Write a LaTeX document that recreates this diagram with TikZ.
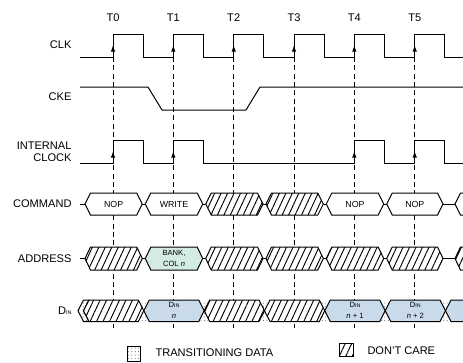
\documentclass[tikz,border=0pt]{standalone}
\usepackage{fontspec}
\setmainfont{Liberation Sans}
\usetikzlibrary{arrows.meta,patterns.meta}
\definecolor{bankgreen}{HTML}{D4EAE4}
\definecolor{dinblue}{HTML}{C9DAEA}
\tikzset{every picture/.style={line width=0.75pt}}
\tikzset{
  lbl/.style={font=\fontsize{8.3}{9.3}\selectfont, inner sep=0pt},
  boxtxt/.style={font=\fontsize{6.6}{7}\selectfont, inner sep=0pt},
  smalltxt/.style={font=\fontsize{5.7}{8}\selectfont, inner sep=0pt, align=center},
  tline/.style={dash pattern=on 3.75pt off 2.5pt},
  edgetip/.style={-{Latex[length=5pt,width=3.4pt]}},
  dontcare/.style={draw, preaction={fill=white}, pattern={Lines[angle=65,distance=4.4pt,line width=0.7pt]}, pattern color=black},
  transdata/.style={pattern={Dots[radius=0.35pt,distance=2.6pt]}, pattern color=black!70},
  bus/.style={draw, fill=white}
}
\newcommand{\dinsub}{{\fontsize{4}{5}\selectfont IN}}

\begin{document}
\begin{tikzpicture}[x=0.75pt,y=0.75pt,yscale=-1,xscale=1]
	\useasboundingbox (0,0) rectangle (463,362);
	
	%Straight Lines: clock edge markers
	\foreach \t in {113,173.3,233.7,294,354.3,414.7}{
		\draw [tline] (\t,57) -- (\t,328);
	}
	
	%Shape: CLK waveform
	\draw (80,57) \foreach \t in {113,173.3,233.7,294,354.3,414.7} { -- (\t,57) -- (\t,34) -- (\t+30.2,34) -- (\t+30.2,57) } -- (463,57);
	\foreach \t in {113,173.3,233.7,294,354.3,414.7}{
		\draw [edgetip] (\t,57) -- (\t,45);
	}
	
	%Shape: CKE waveform
	\draw (80,87) -- (148,87) -- (162,110) -- (246,110) -- (260,87) -- (463,87);
	
	%Shape: INTERNAL CLOCK waveform
	\draw (80,163) -- (113,163) -- (113,140) -- (143.2,140) -- (143.2,163) -- (173.3,163) -- (173.3,140) -- (203.5,140) -- (203.5,163) -- (354.3,163) -- (354.3,140) -- (384.5,140) -- (384.5,163) -- (414.7,163) -- (414.7,140) -- (444.9,140) -- (444.9,163) -- (463,163);
	\foreach \t in {113,173.3,354.3,414.7}{
		\draw [edgetip] (\t,163) -- (\t,151);
	}
	
	%Shape: COMMAND bus
	\draw (80,204) -- (463,204);
	\draw [bus] (85,204) -- (90.5,193) -- (136.8,193) -- (142.3,204) -- (136.8,215) -- (90.5,215) -- cycle;
	\draw [bus] (145.3,204) -- (150.8,193) -- (197.2,193) -- (202.7,204) -- (197.2,215) -- (150.8,215) -- cycle;
	\draw [dontcare] (205.7,204) -- (211.2,193) -- (257.5,193) -- (263,204) -- (257.5,215) -- (211.2,215) -- cycle;
	\draw [dontcare] (266,204) -- (271.5,193) -- (317.8,193) -- (323.3,204) -- (317.8,215) -- (271.5,215) -- cycle;
	\draw [bus] (326.3,204) -- (331.8,193) -- (378.2,193) -- (383.7,204) -- (378.2,215) -- (331.8,215) -- cycle;
	\draw [bus] (386.7,204) -- (392.2,193) -- (437.5,193) -- (443,204) -- (437.5,215) -- (392.2,215) -- cycle;
	\draw [bus] (455,204) -- (460.5,193) -- (500,193) -- (500,215) -- (460.5,215) -- cycle;
	
	%Shape: ADDRESS bus
	\draw (80,258.5) -- (463,258.5);
	\draw [dontcare] (85,258.5) -- (90.5,247) -- (136.8,247) -- (142.3,258.5) -- (136.8,270) -- (90.5,270) -- cycle;
	\draw [draw, fill=bankgreen] (145.3,258.5) -- (150.8,247) -- (197.2,247) -- (202.7,258.5) -- (197.2,270) -- (150.8,270) -- cycle;
	\draw [dontcare] (205.7,258.5) -- (211.2,247) -- (257.5,247) -- (263,258.5) -- (257.5,270) -- (211.2,270) -- cycle;
	\draw [dontcare] (266,258.5) -- (271.5,247) -- (317.8,247) -- (323.3,258.5) -- (317.8,270) -- (271.5,270) -- cycle;
	\draw [dontcare] (326.3,258.5) -- (331.8,247) -- (378.2,247) -- (383.7,258.5) -- (378.2,270) -- (331.8,270) -- cycle;
	\draw [dontcare] (386.7,258.5) -- (392.2,247) -- (437.5,247) -- (443,258.5) -- (437.5,270) -- (392.2,270) -- cycle;
	\draw [dontcare] (455,258.5) -- (460.5,247) -- (500,247) -- (500,270) -- (460.5,270) -- cycle;
	
	%Shape: DIN bus
	\path [transdata] (83.5,300) -- (470,300) -- (470,321.5) -- (83.5,321.5) -- cycle;
	\draw [transdata] (78,310.7) -- (83.5,300) -- (89,300) -- (83.5,310.7) -- (89,321.5) -- (83.5,321.5) -- cycle;
	\draw [dontcare] (83.5,310.7) -- (89,300) -- (138.3,300) -- (143.8,310.7) -- (138.3,321.5) -- (89,321.5) -- cycle;
	\draw [draw, fill=dinblue] (143.8,310.7) -- (149.3,300) -- (198.7,300) -- (204.2,310.7) -- (198.7,321.5) -- (149.3,321.5) -- cycle;
	\draw [dontcare] (204.2,310.7) -- (209.7,300) -- (259,300) -- (264.5,310.7) -- (259,321.5) -- (209.7,321.5) -- cycle;
	\draw [dontcare] (264.5,310.7) -- (270,300) -- (319.3,300) -- (324.8,310.7) -- (319.3,321.5) -- (270,321.5) -- cycle;
	\draw [draw, fill=dinblue] (324.8,310.7) -- (330.3,300) -- (379.7,300) -- (385.2,310.7) -- (379.7,321.5) -- (330.3,321.5) -- cycle;
	\draw [draw, fill=dinblue] (385.2,310.7) -- (390.7,300) -- (440,300) -- (445.5,310.7) -- (440,321.5) -- (390.7,321.5) -- cycle;
	\draw [draw, fill=dinblue] (445.5,310.7) -- (451,300) -- (500,300) -- (500,321.5) -- (451,321.5) -- cycle;
	
	%Shape: legend boxes
	\draw [transdata, draw] (127,346.5) rectangle (140,361);
	\draw [dontcare] (339,343) rectangle (353,356);
	
	% Text Node
	\node [lbl] (t0) at (113,18) {T0};
	\node [lbl] (t1) at (173.3,18) {T1};
	\node [lbl] (t2) at (233.7,18) {T2};
	\node [lbl] (t3) at (294,18) {T3};
	\node [lbl] (t4) at (354.3,18) {T4};
	\node [lbl] (t5) at (414.7,18) {T5};
	% Text Node
	\node [lbl, anchor=east] (clk) at (72,45) {CLK};
	\node [lbl, anchor=east] (cke) at (72,97) {CKE};
	\node [lbl, anchor=east, align=right] (iclk) at (72,152) {INTERNAL\\CLOCK};
	\node [lbl, anchor=east] (cmd) at (72,204) {COMMAND};
	\node [lbl, anchor=east] (addr) at (72,258.5) {ADDRESS};
	\node [lbl, anchor=east] (din) at (72,310.7) {D\dinsub};
	% Text Node
	\node [boxtxt] (nop0) at (113.6,204) {NOP};
	\node [boxtxt] (write) at (174,204) {WRITE};
	\node [boxtxt] (nop4) at (355,204) {NOP};
	\node [boxtxt] (nop5) at (414.8,204) {NOP};
	% Text Node
	\node [smalltxt] (bank) at (174,258.5) {BANK,\\COL \textit{n}};
	\node [smalltxt] (dinn) at (174,310.7) {D\dinsub\\\textit{n}};
	\node [smalltxt] (dinn1) at (355,310.7) {D\dinsub\\\textit{n} + 1};
	\node [smalltxt] (dinn2) at (415.3,310.7) {D\dinsub\\\textit{n} + 2};
	% Text Node
	\node [lbl, anchor=west] (legtrans) at (155,353) {TRANSITIONING DATA};
	\node [lbl, anchor=west] (legcare) at (367,351) {DON'T CARE};
	
\end{tikzpicture}
\end{document}
